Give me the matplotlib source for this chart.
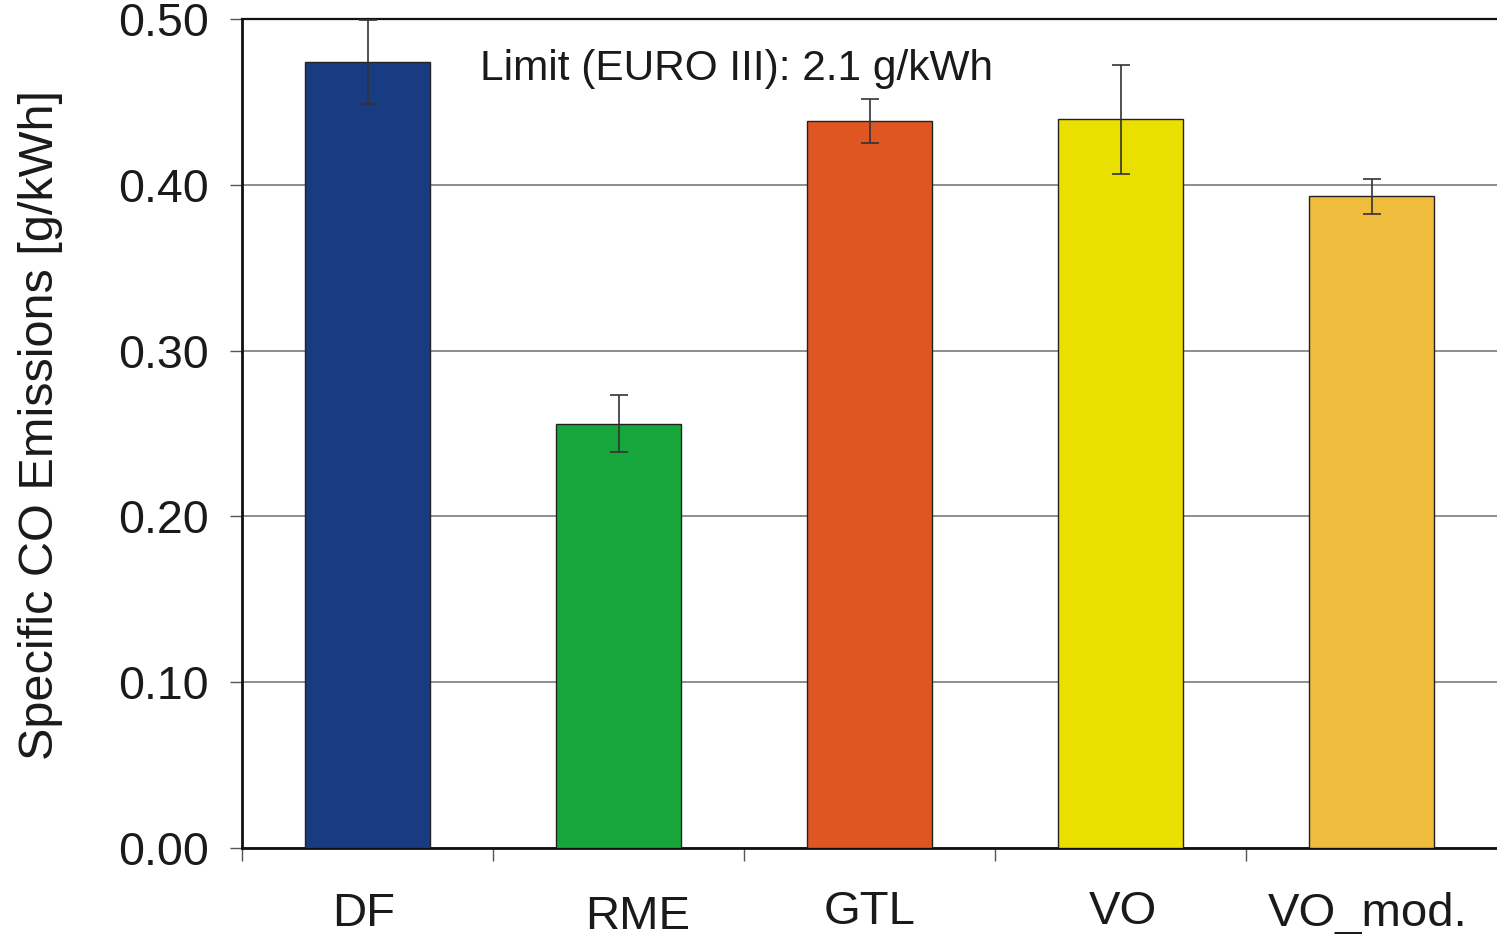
import matplotlib.pyplot as plt
import numpy as np

plt.rcParams['font.family'] = ['Liberation Sans', 'DejaVu Sans']

fuels = ['DF', 'RME', 'GTL', 'VO', 'VO_mod.']
co_emissions = [0.474, 0.256, 0.4385, 0.4395, 0.393]
co_error = [0.0255, 0.0172, 0.013, 0.033, 0.0106]
bar_colors = ['#183b82', '#17a63b', '#e05623', '#e9e000', '#efbc3e']
yticks = [0.0, 0.1, 0.2, 0.3, 0.4, 0.5]

fig = plt.figure(figsize=(14.97, 9.34), dpi=100)
ax = fig.add_axes([242 / 1497, 86 / 934, 1 - 242 / 1497, (848 - 19) / 934])

x = np.arange(len(fuels))
ax.bar(x, co_emissions, width=0.5, color=bar_colors, edgecolor='#222222',
       linewidth=1.0, zorder=3)
ax.errorbar(x, co_emissions, yerr=co_error, fmt='none', ecolor='#333333',
            elinewidth=1.2, capsize=6.5, capthick=1.2, zorder=4)

ax.set_xlim(-0.5, 4.5)
ax.set_ylim(0, 0.5)
ax.set_yticks(yticks)
ax.set_yticklabels(['{:.2f}'.format(v) for v in yticks])
ax.yaxis.grid(True, color='#7a7a7a', linewidth=1.2, zorder=0)
ax.set_axisbelow(True)

# category boundaries as ticks, names written underneath
ax.set_xticks(np.arange(-0.5, 4.5, 1.0))
ax.set_xticklabels([])
ax.tick_params(axis='x', direction='out', length=9, width=1.0, color='#555555')
ax.tick_params(axis='y', direction='out', length=9, width=1.0, color='#555555',
               labelsize=33.5, pad=15, labelcolor='#1a1a1a')
# small nudges for the names; RME sits a bit lower and to the right
label_dx = [-0.015, 0.075, 0.0, 0.01, -0.015]
label_y = [-0.094, -0.098, -0.092, -0.092, -0.094]
for xi, name, dx, ly in zip(x, fuels, label_dx, label_y):
    ax.text(xi + dx, ly, name, ha='center', va='baseline', fontsize=34,
            color='#1a1a1a', transform=ax.get_xaxis_transform(), clip_on=False)

for side in ['left', 'bottom']:
    ax.spines[side].set_linewidth(2.0)
    ax.spines[side].set_color('#111111')
ax.spines['top'].set_linewidth(1.6)
ax.spines['top'].set_color('#111111')
ax.spines['right'].set_visible(False)

ax.set_ylabel('Specific CO Emissions [g/kWh]', fontsize=35, color='#1a1a1a')
ax.yaxis.set_label_coords(-0.143, 0.51)
ax.text(0.448, 0.4632, 'Limit (EURO III): 2.1 g/kWh', fontsize=30.5,
        color='#1a1a1a', ha='left', va='baseline')

plt.savefig('out.png', dpi=100)
